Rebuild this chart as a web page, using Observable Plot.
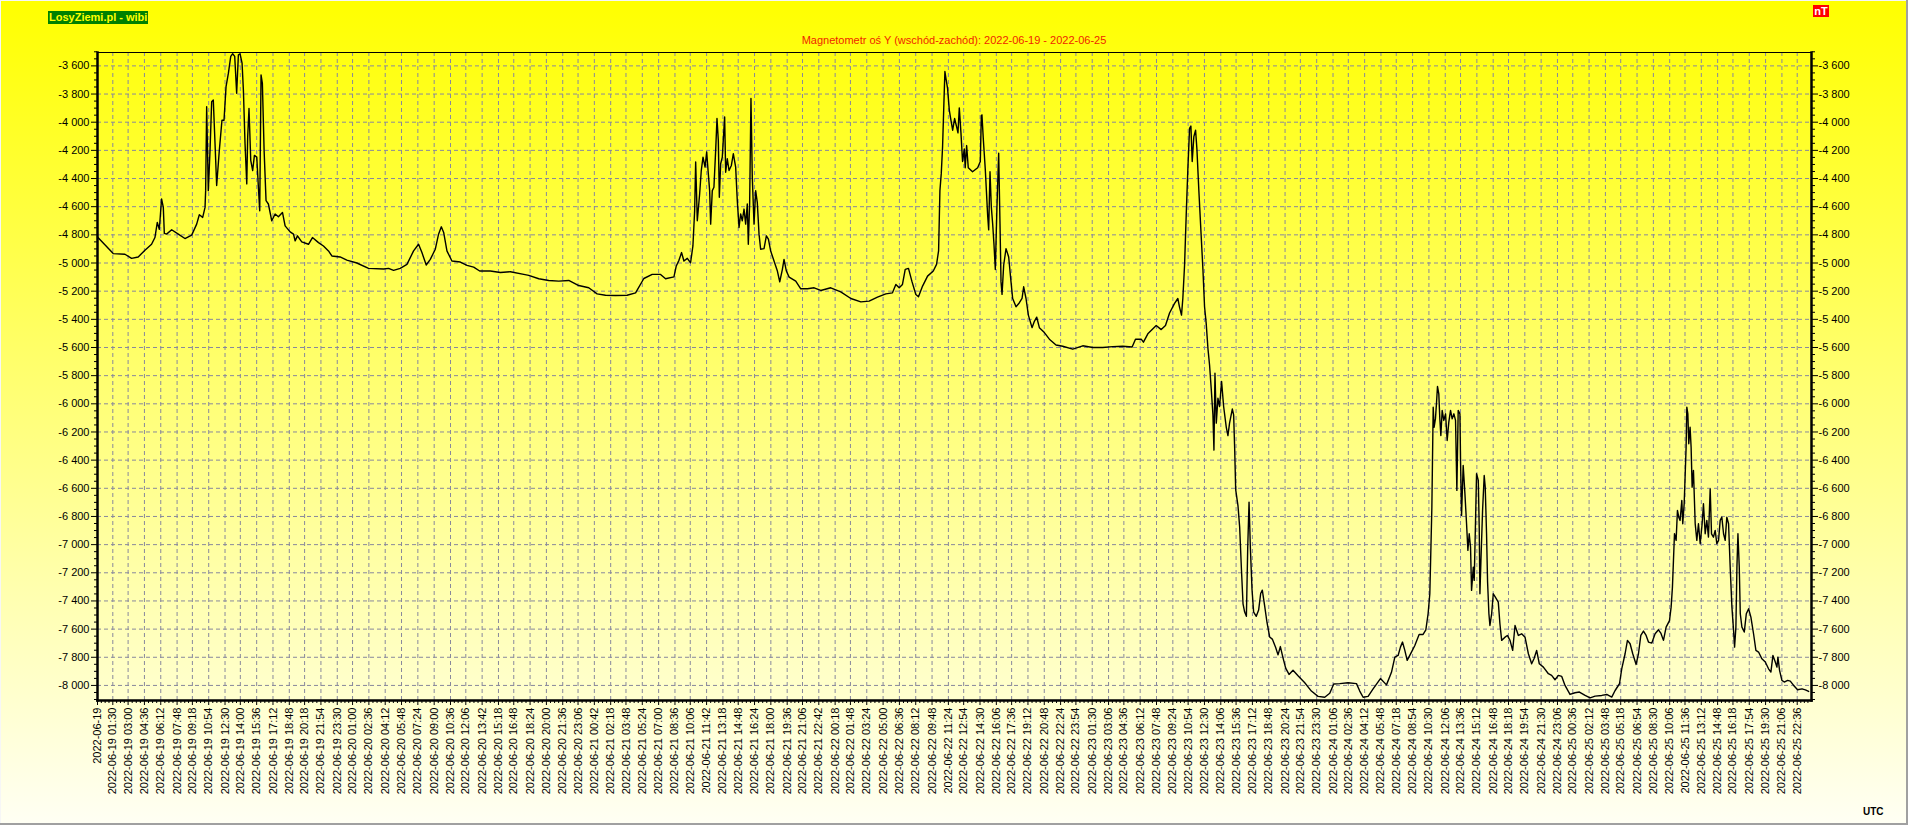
<!DOCTYPE html>
<html>
<head>
<meta charset="utf-8">
<script src="https://cdn.jsdelivr.net/npm/d3@7"></script>
<script src="https://cdn.jsdelivr.net/npm/@observablehq/plot@0.6"></script>
<style>
html, body { margin: 0; padding: 0; }
body { width: 1908px; height: 825px; overflow: hidden; }
#page {
  position: relative; width: 1908px; height: 825px;
  background: linear-gradient(to bottom, #ffff00 0%, #fffff4 100%);
  font-family: "Liberation Sans", Arial, sans-serif;
}
#frameShade { position: absolute; left: 0; top: 0; width: 1908px; height: 825px; box-sizing: border-box;
  box-shadow: inset -2px -2px 0 #a0a0a0, inset 1px 1px 0 #f6f6f6; pointer-events: none; }
#chart { position: absolute; left: 0; top: 0; }
#logo { position: absolute; left: 48px; top: 11px; height: 13px; line-height: 13px; padding: 0 1px;
  background: #008000; color: #ffff00; font-weight: bold; font-size: 11px; white-space: nowrap; }
#title { position: absolute; left: 97px; width: 1714px; top: 34px; line-height: 12px; text-align: center;
  color: #f01e00; font-size: 11px; white-space: nowrap; }
#unit { position: absolute; left: 1813px; top: 5px; width: 16px; height: 12px; line-height: 12px; text-align: center;
  background: #ff0000; color: #ffffff; font-weight: bold; font-size: 11px; }
#utc { position: absolute; left: 1863px; top: 806px; line-height: 11px; font-weight: bold; font-size: 10px; color: #000; }
</style>
</head>
<body>
<div id="page">
  <div id="chart"></div>
  <div id="logo">LosyZiemi.pl - wibi</div>
  <div id="title">Magnetometr oś Y (wschód-zachód): 2022-06-19 - 2022-06-25</div>
  <div id="unit">nT</div>
  <div id="utc">UTC</div>
  <div id="frameShade"></div>
</div>
<script>
// ---- data: hours since 2022-06-19 00:00 UTC and Y-component values (nT)
const hours = [
0,1.54,2.69,3.34,3.99,4.65,5.30,5.63,5.86,6.06,6.28,6.45,6.55,6.77,7.27,7.92,8.57,9.23,9.72,9.98,
10.31,10.54,10.60,10.70,10.86,11.03,11.19,11.35,11.52,11.68,11.94,12.20,12.40,12.60,12.83,13.06,13.25,13.45,13.64,13.81,
13.97,14.17,14.30,14.46,14.63,14.72,14.85,15.02,15.21,15.38,15.61,15.77,15.90,16.03,16.16,16.33,16.52,16.75,17.08,17.41,
17.73,18.13,18.39,18.88,19.21,19.37,19.60,20.02,20.68,21.07,21.66,22.15,22.64,22.97,23.78,24.44,25.42,26.57,28.04,28.53,
29.02,29.67,30.33,30.98,31.47,31.80,32.22,32.62,33.11,33.43,33.70,33.93,34.25,34.74,35.56,36.22,36.87,37.46,38.50,39.49,
40.47,41.78,
42.27,43.25,44.23,45.21,46.19,47.17,48.15,48.97,49.79,50.77,51.91,52.74,53.55,54.37,55.19,55.68,56.50,56.73,56.99,57.25,
57.48,57.81,58.13,58.36,58.53,58.63,58.79,59.02,59.18,59.35,59.55,59.71,59.87,60.00,60.10,60.26,60.42,60.59,60.72,60.85,
60.95,61.08,61.24,61.47,61.57,61.73,61.90,62.13,62.32,62.55,62.71,62.88,63.04,63.20,63.37,63.53,63.69,63.79,63.92,64.05,
64.18,64.35,64.51,64.67,64.84,65.00,65.33,65.56,65.76,65.98,66.31,66.64,66.87,67.13,67.29,67.52,67.79,68.44,68.93,69.59,
70.24,70.89,71.87,72.85,73.84,74.82,75.63,76.45,77.27,77.92,78.25,78.58,78.90,79.17,79.49,79.82,80.21,80.47,80.87,81.36,
81.92,82.24,82.44,82.57,82.70,82.83,82.96,83.06,83.16,83.32,83.49,83.65,83.82,84.01,84.21,84.34,84.47,
84.63,84.79,84.96,85.05,85.19,85.35,85.77,86.27,86.53,86.63,86.69,86.82,87.02,87.25,87.35,87.48,87.61,87.74,87.87,88.00,
88.16,88.33,88.46,88.56,88.66,88.82,89.05,89.31,89.54,89.70,90.03,90.36,90.62,90.78,91.01,91.24,91.60,91.83,92.06,92.32,
92.81,93.30,93.95,94.61,95.59,96.57,97.55,98.53,99.51,100.50,101.41,101.74,102.30,102.52,102.95,103.77,104.26,104.68,105.08,105.57,
105.89,106.05,106.25,106.38,106.55,106.71,106.87,107.04,107.17,107.30,107.46,107.63,107.76,107.95,108.18,108.35,108.51,108.67,108.84,109.00,
109.17,109.33,109.43,109.53,109.66,109.82,109.98,110.18,110.38,110.64,110.80,110.96,111.23,111.36,111.46,111.56,111.79,111.95,112.12,112.28,
112.44,112.61,112.74,112.87,113.00,113.16,113.32,113.58,113.81,114.01,114.17,114.40,114.63,114.89,115.15,115.48,115.71,115.94,116.20,116.46,
116.79,117.18,117.67,118.33,118.98,119.63,120.29,120.78,121.17,121.76,122.58,123.40,123.72,124.05,124.54,125.03,125.75,126.34,126.83,
127.16,127.48,127.71,127.91,128.14,128.37,128.79,129.12,129.54,129.93,130.20,130.42,130.59,130.69,130.79,130.85,130.92,131.01,131.14,131.24,
131.34,131.47,131.57,131.67,131.80,131.96,132.13,132.29,132.45,132.62,132.78,132.95,133.11,133.24,133.37,133.54,133.60,133.70,133.86,134.03,
134.19,134.32,134.45,134.58,134.68,134.85,134.94,135.07,135.17,135.34,135.43,135.50,135.60,135.76,135.92,136.02,136.15,136.25,136.38,136.48,
136.65,136.81,137.04,137.30,137.46,137.63,137.96,138.19,138.45,138.71,138.94,139.27,139.59,139.92,140.25,140.57,140.80,141.06,141.32,141.72,
142.21,142.53,142.86,143.19,143.52,143.84,144.33,144.82,145.25,145.81,146.30,146.79,147.44,147.93,148.42,148.75,149.18,149.40,149.73,149.96,
150.22,150.48,150.81,151.04,151.27,151.53,151.79,152.02,152.35,152.67,153.00,153.23,153.49,153.75,154.08,154.24,154.37,154.47,154.57,154.73,
154.86,154.99,155.12,155.29,155.38,155.52,155.61,155.71,155.78,155.88,155.97,156.10,156.20,156.30,156.43,156.60,156.76,156.92,157.09,157.28,
157.41,157.58,157.74,157.90,158.07,158.20,158.39,158.56,158.72,158.89,159.05,159.21,159.38,159.54,159.70,159.87,160.03,160.20,160.36,160.46,
160.59,160.69,160.79,160.92,161.02,161.18,161.41,161.61,161.84,162.06,162.32,162.55,162.81,163.14,163.47,163.79,164.02,164.22,164.45,164.61,
164.71,164.87,165.10,165.33,165.66,165.92,166.25,166.64,167.07,167.40,167.72
];
const nT = [
-4815,-4933,-4938,-4967,-4957,-4909,-4867,-4819,-4712,-4760,-4545,-4605,-4790,-4795,-4764,-4795,-4826,-4802,-4724,-4657,
-4676,-4605,-4486,-3890,-4486,-4200,-3855,-3843,-4152,-4450,-4200,-3986,-3986,-3748,-3652,-3533,-3514,-3533,-3795,-3521,
-3514,-3581,-3771,-4152,-4438,-4105,-3902,-4271,-4343,-4236,-4248,-4462,-4629,-3664,-3724,-4200,-4557,-4581,-4700,-4652,
-4671,-4641,-4736,-4779,-4795,-4843,-4807,-4850,-4867,-4819,-4855,-4879,-4914,-4950,-4957,-4979,-5000,-5038,-5043,-5038,
-5052,-5038,-5010,-4914,-4867,-4926,-5014,-4974,-4902,-4795,-4743,-4783,-4914,-4986,-4993,-5017,-5029,-5057,-5057,-5067,
-5062,-5081,
-5088,-5112,-5124,-5129,-5124,-5160,-5176,-5219,-5229,-5231,-5229,-5212,-5110,-5081,-5081,-5112,-5098,-5021,-4981,-4926,
-4986,-4967,-4998,-4879,-4629,-4283,-4700,-4510,-4343,-4248,-4319,-4212,-4367,-4486,-4724,-4486,-4462,-4200,-3974,-4129,
-4533,-4295,-4248,-3962,-4355,-4260,-4343,-4307,-4224,-4319,-4557,-4748,-4652,-4700,-4617,-4724,-4581,-4867,-4581,-3831,
-4390,-4724,-4486,-4569,-4795,-4902,-4898,-4807,-4831,-4914,-4986,-5057,-5133,-5045,-4974,-5057,-5100,-5129,-5183,-5183,
-5176,-5195,-5176,-5205,-5252,-5276,-5271,-5243,-5219,-5212,-5152,-5176,-5152,-5045,-5038,-5129,-5224,-5240,-5164,-5093,
-5057,-5010,-4914,-4486,-4367,-4176,-3867,-3640,-3688,-3760,-3914,-3986,-4057,-3974,-4033,-4076,-3898,
-4072,-4279,-4190,-4323,-4166,-4323,-4352,-4323,-4279,-3954,-3948,-4116,-4338,-4662,-4765,-4352,-4603,-4721,-4869,-5046,
-4603,-4220,-4721,-5134,-5223,-5016,-4898,-4957,-5134,-5252,-5311,-5282,-5252,-5169,-5252,-5370,-5459,-5414,-5385,-5459,
-5494,-5541,-5582,-5591,-5612,-5588,-5600,-5600,-5594,-5591,-5597,-5541,-5541,-5562,-5503,-5444,-5473,-5444,-5355,-5287,
-5252,-5311,-5370,-5252,-5016,-4662,-4338,-4043,-4027,-4279,-4102,-4057,-4190,-4485,-4810,-5046,-5311,-5429,-5606,-5724,
-5901,-6078,-6329,-5783,-6137,-5960,-6019,-5842,-6019,-6167,-6226,-6137,-6037,-6078,-6314,-6609,-6727,-6875,-7170,-7420,
-7479,-7509,-7022,-6698,-7022,-7317,-7479,-7509,-7465,-7347,-7323,-7435,-7553,-7656,-7671,-7730,-7783,-7724,-7804,-7877,
-7922,-7892,-7931,-7981,-8040,-8078,-8084,-8055,-7990,-7987,-7981,-7987,-8040,-8084,-8078,-8025,-7951,-7996,-7907,
-7799,-7787,-7728,-7692,-7751,-7822,-7763,-7716,-7638,-7638,-7605,-7491,-7349,-7041,-6734,-6402,-6024,-6166,-6107,-6000,
-5877,-5929,-6107,-6225,-6047,-6118,-6071,-6260,-6130,-6047,-6107,-6071,-6118,-6615,-6047,-6071,-6402,-6793,-6438,-6639,
-6852,-7041,-6923,-7018,-7325,-7160,-7254,-6828,-6497,-6544,-6876,-7349,-7112,-6757,-6509,-6592,-6923,-7266,-7491,-7574,
-7491,-7349,-7377,-7408,-7562,-7680,-7657,-7645,-7680,-7751,-7574,-7645,-7633,-7657,-7775,-7846,-7811,-7751,-7846,-7870,
-7917,-7929,-7960,-7929,-7936,-8000,-8064,-8052,-8047,-8071,-8088,-8076,-8071,-8064,-8083,-8036,-7988,-7882,-7775,-7680,
-7704,-7775,-7851,-7775,-7645,-7614,-7645,-7692,-7699,-7633,-7605,-7628,-7680,-7586,-7540,-7444,-7302,-7112,-6923,-6970,
-6757,-6805,-6828,-6686,-6852,-6710,-6521,-6308,-6024,-6071,-6284,-6166,-6308,-6592,-6473,-6852,-6970,-6852,-6994,-6852,
-6710,-6923,-6828,-6947,-6604,-6923,-6947,-6899,-6994,-6970,-6828,-6805,-6923,-6970,-6805,-6852,-7160,-7444,-7609,-7728,
-7586,-7160,-6923,-7160,-7491,-7586,-7621,-7491,-7456,-7515,-7633,-7751,-7763,-7811,-7834,-7882,-7905,-7787,-7834,-7870,
-7799,-7893,-7964,-7976,-7964,-7969,-8000,-8031,-8024,-8031,-8043
];

// ---- axis tick labels (as printed under the chart)
const xTickLabels = [
"2022-06-19","2022-06-19 01:30","2022-06-19 03:00","2022-06-19 04:36","2022-06-19 06:12","2022-06-19 07:48","2022-06-19 09:18","2022-06-19 10:54","2022-06-19 12:30","2022-06-19 14:00","2022-06-19 15:36","2022-06-19 17:12","2022-06-19 18:48","2022-06-19 20:18","2022-06-19 21:54","2022-06-19 23:30",
"2022-06-20 01:00","2022-06-20 02:36","2022-06-20 04:12","2022-06-20 05:48","2022-06-20 07:24","2022-06-20 09:00","2022-06-20 10:36","2022-06-20 12:06","2022-06-20 13:42","2022-06-20 15:18","2022-06-20 16:48","2022-06-20 18:24","2022-06-20 20:00","2022-06-20 21:36","2022-06-20 23:06",
"2022-06-21 00:42","2022-06-21 02:18","2022-06-21 03:48","2022-06-21 05:24","2022-06-21 07:00","2022-06-21 08:36","2022-06-21 10:06","2022-06-21 11:42","2022-06-21 13:18","2022-06-21 14:48","2022-06-21 16:24","2022-06-21 18:00","2022-06-21 19:36","2022-06-21 21:06","2022-06-21 22:42",
"2022-06-22 00:18","2022-06-22 01:48","2022-06-22 03:24","2022-06-22 05:00","2022-06-22 06:36","2022-06-22 08:12","2022-06-22 09:48","2022-06-22 11:24","2022-06-22 12:54","2022-06-22 14:30","2022-06-22 16:06","2022-06-22 17:36","2022-06-22 19:12","2022-06-22 20:48","2022-06-22 22:24","2022-06-22 23:54",
"2022-06-23 01:30","2022-06-23 03:06","2022-06-23 04:36","2022-06-23 06:12","2022-06-23 07:48","2022-06-23 09:24","2022-06-23 10:54","2022-06-23 12:30","2022-06-23 14:06","2022-06-23 15:36","2022-06-23 17:12","2022-06-23 18:48","2022-06-23 20:24","2022-06-23 21:54","2022-06-23 23:30",
"2022-06-24 01:06","2022-06-24 02:36","2022-06-24 04:12","2022-06-24 05:48","2022-06-24 07:18","2022-06-24 08:54","2022-06-24 10:30","2022-06-24 12:06","2022-06-24 13:36","2022-06-24 15:12","2022-06-24 16:48","2022-06-24 18:18","2022-06-24 19:54","2022-06-24 21:30","2022-06-24 23:06",
"2022-06-25 00:36","2022-06-25 02:12","2022-06-25 03:48","2022-06-25 05:18","2022-06-25 06:54","2022-06-25 08:30","2022-06-25 10:06","2022-06-25 11:36","2022-06-25 13:12","2022-06-25 14:48","2022-06-25 16:18","2022-06-25 17:54","2022-06-25 19:30","2022-06-25 21:06","2022-06-25 22:36"
];
const yTickValues = [-8000,-7800,-7600,-7400,-7200,-7000,-6800,-6600,-6400,-6200,-6000,-5800,-5600,-5400,-5200,-5000,-4800,-4600,-4400,-4200,-4000,-3800,-3600];
const yDomain = [-8107, -3505];
const xStart = "2022-06-19 00:00", xEnd = "2022-06-26 00:00";

// ---- build
const parseFull = d3.utcParse("%Y-%m-%d %H:%M");
const parseDay = d3.utcParse("%Y-%m-%d");
const parseLabel = s => s.length > 10 ? parseFull(s) : parseDay(s);
const t0 = parseFull(xStart), t1 = parseFull(xEnd);
const data = hours.map((h, i) => ({t: new Date(+t0 + h * 3600e3), v: nT[i]}));
const xTicks = xTickLabels.map(parseLabel);
const labelByTime = new Map(xTickLabels.map((s, i) => [+xTicks[i], s]));
const xMinor = [];
for (let i = 0; i < xTicks.length; i++) {
  const a = +xTicks[i], b = i + 1 < xTicks.length ? +xTicks[i + 1] : +t1;
  for (let k = 1; k < 4; k++) xMinor.push(new Date(a + (b - a) * k / 4));
}
const yMinor = d3.range(-8100, -3500 + 1, 50).filter(v => v % 200 !== 0);
const yFmt = d => (d < 0 ? "-" : "") + d3.format(",")(Math.abs(d)).replace(/,/g, " ");
const gridColor = "#88889c";

const chart = Plot.plot({
  width: 1908, height: 825,
  marginLeft: 97, marginRight: 97, marginTop: 52, marginBottom: 125,
  style: {background: "transparent", fontFamily: "'Liberation Sans', Arial, sans-serif", fontSize: "11px", color: "#000", overflow: "visible"},
  x: {type: "utc", domain: [t0, t1]},
  y: {domain: yDomain},
  marks: [
    Plot.gridY(yTickValues, {stroke: gridColor, strokeOpacity: 1, strokeDasharray: "4,3"}),
    Plot.gridX(xTicks, {stroke: gridColor, strokeOpacity: 1, strokeDasharray: "4,3"}),
    Plot.line(data, {x: "t", y: "v", stroke: "#000", strokeWidth: 1.4}),
    Plot.frame({stroke: "#000", strokeWidth: 1}),
    Plot.frame({anchor: "left", stroke: "#000", strokeWidth: 2.5}),
    Plot.frame({anchor: "right", stroke: "#000", strokeWidth: 2.5}),
    Plot.frame({anchor: "bottom", stroke: "#000", strokeWidth: 2.5}),
    Plot.axisY(yTickValues, {anchor: "left", tickSize: 6, tickPadding: 2, tickFormat: yFmt, label: null}),
    Plot.axisY(yTickValues, {anchor: "right", tickSize: 6, tickPadding: 1, tickFormat: yFmt, label: null}),
    Plot.axisY(yMinor, {anchor: "left", tickSize: 3, tickFormat: () => "", label: null}),
    Plot.axisY(yMinor, {anchor: "right", tickSize: 3, tickFormat: () => "", label: null}),
    Plot.axisX(xTicks, {anchor: "bottom", tickSize: 5, tickPadding: 2, tickRotate: -90, tickFormat: d => labelByTime.get(+d), label: null}),
    Plot.axisX(xMinor, {anchor: "bottom", tickSize: 3, tickFormat: () => "", label: null})
  ]
});
document.getElementById("chart").appendChild(chart);
</script>
</body>
</html>
